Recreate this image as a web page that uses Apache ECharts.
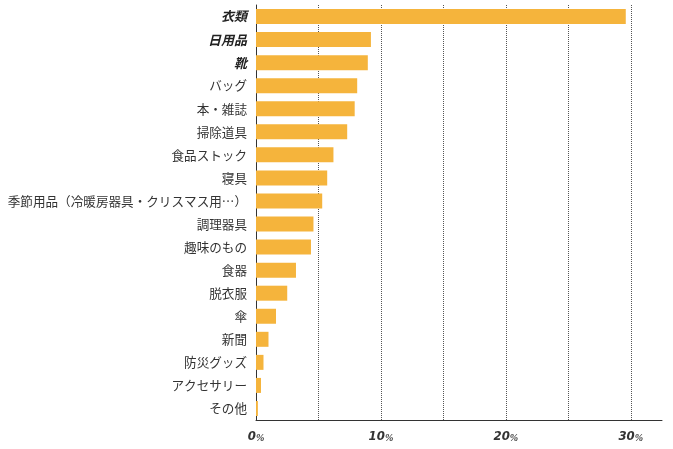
<!DOCTYPE html>
<html><head><meta charset="utf-8">
<script src="https://cdn.jsdelivr.net/npm/echarts@6/dist/echarts.min.js"></script>
<style>html,body{margin:0;padding:0;background:#fff}#c{width:673px;height:449px}</style>
</head><body><div id="c"></div>
<script>
const categories = ["衣類","日用品","靴","バッグ","本・雑誌","掃除道具","食品ストック","寝具","季節用品（冷暖房器具・クリスマス用…）","調理器具","趣味のもの","食器","脱衣服","傘","新聞","防災グッズ","アクセサリー","その他"];
const values = [29.6,9.2,8.95,8.1,7.9,7.3,6.2,5.7,5.3,4.6,4.4,3.2,2.5,1.6,1.0,0.6,0.4,0.15];
const boldCats = ["衣類","日用品","靴"];
const tickLabels = {0:"0",10:"10",20:"20",30:"30"};

const chart = echarts.init(document.getElementById('c'));
chart.setOption({
  animation:false,
  grid:{left:256,right:11,top:5,bottom:29,containLabel:false},
  xAxis:{type:'value',min:0,max:32.5,interval:5,
    axisLine:{show:true,lineStyle:{color:'#333'}},axisTick:{show:false},
    splitLine:{show:true,showMinLine:false,showMaxLine:false,lineStyle:{type:'dotted',color:'#555'}},
    axisLabel:{margin:10,formatter:v=>tickLabels[v]!==undefined?'{n|'+tickLabels[v]+'}{p|%}':'',
      rich:{n:{fontFamily:'Liberation Sans Narrow, DejaVu Sans Condensed',fontWeight:'bold',fontStyle:'italic',fontSize:13,color:'#333'},
            p:{fontFamily:'Liberation Sans Narrow',fontWeight:'bold',fontStyle:'italic',fontSize:10,color:'#333',padding:[3,0,0,0]}}}},
  yAxis:{type:'category',data:categories,inverse:true,
    axisLine:{show:true,lineStyle:{color:'#333'}},axisTick:{show:false},
    axisLabel:{margin:9,formatter:v=>boldCats.includes(v)?'{b|'+v+'}':'{r|'+v+'}',
      rich:{b:{fontFamily:'Noto Sans CJK JP',fontWeight:'bold',fontStyle:'italic',fontSize:13,color:'#222'},
            r:{fontFamily:'Noto Sans CJK JP',fontSize:12.6,color:'#333'}}}},
  series:[{type:'bar',data:values,barWidth:15,itemStyle:{color:'#f5b43c'}}]
});
</script></body></html>
